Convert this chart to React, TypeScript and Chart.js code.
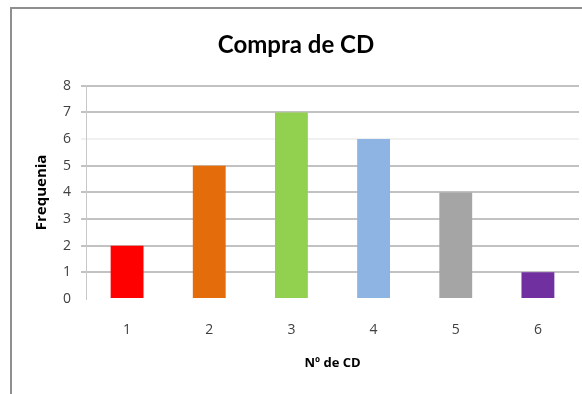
import React, { useEffect, useRef } from "react";
import { Chart, registerables } from "chart.js";

Chart.register(...registerables);

const categories = ["1", "2", "3", "4", "5", "6"];
const frequencies = [2, 5, 7, 6, 4, 1];
const barColors = ["#ff0000", "#e46c0a", "#92d050", "#8db4e2", "#a5a5a5", "#7030a0"];
const yMin = 0;
const yMax = 8;
const yStep = 1;
const chartTitle = "Compra de CD";
const xAxisTitle = "Nº de CD";
const yAxisTitle = "Frequenia";

const framePlugin = {
  id: "frame",
  beforeDraw(chart: any) {
    const { ctx } = chart;
    ctx.save();
    ctx.fillStyle = "#ffffff";
    ctx.fillRect(0, 0, chart.width, chart.height);
    ctx.strokeStyle = "#8f8f8f";
    ctx.lineWidth = 2;
    ctx.beginPath();
    ctx.moveTo(11, chart.height);
    ctx.lineTo(11, 8);
    ctx.lineTo(chart.width, 8);
    ctx.stroke();
    ctx.restore();
  },
  afterDraw(chart: any) {
    const { ctx } = chart;
    ctx.save();
    ctx.fillStyle = "#ffffff";
    ctx.fillRect(13, 367, chart.width - 13, chart.height - 367);
    ctx.restore();
  },
};

export default function App() {
  const canvasRef = useRef<HTMLCanvasElement | null>(null);

  useEffect(() => {
    if (!canvasRef.current) return;
    const chart = new Chart(canvasRef.current, {
      type: "bar",
      data: {
        labels: categories,
        datasets: [
          {
            data: frequencies,
            backgroundColor: barColors,
            borderWidth: 0,
            barPercentage: 0.4,
            categoryPercentage: 1,
          },
        ],
      },
      options: {
        responsive: false,
        animation: false,
        layout: { padding: { left: 13, right: 3, top: 0, bottom: 0 } },
        plugins: {
          legend: { display: false },
          tooltip: { enabled: false },
          title: {
            display: true,
            text: chartTitle,
            color: "#000000",
            font: { family: "Lato", size: 24, weight: "bold", lineHeight: 1.2 },
            padding: { top: 31, bottom: 26 },
          },
        },
        scales: {
          x: {
            afterFit: (scale: any) => {
              scale.height = 95;
            },
            grid: { display: false, drawTicks: false },
            border: { display: false },
            ticks: {
              color: "#404040",
              padding: 23,
              font: { family: "Open Sans", size: 14 },
            },
            title: {
              display: true,
              text: xAxisTitle,
              color: "#000000",
              font: { family: "Open Sans", size: 13, weight: "bold", lineHeight: 1.2 },
              padding: { top: 0, bottom: 23 },
            },
          },
          y: {
            min: yMin,
            max: yMax,
            afterFit: (scale: any) => {
              scale.width = 73;
            },
            grid: {
              color: (ctx: any) => {
                const v = ctx.tick ? ctx.tick.value : null;
                if (v === 0) return "rgba(0,0,0,0)";
                if (v === 6) return "#f0f0f0";
                return "#c2c2c2";
              },
              lineWidth: 2,
              drawTicks: true,
              tickLength: 5,
            },
            border: { display: true, color: "#c8c8c8", width: 1 },
            ticks: {
              stepSize: yStep,
              color: "#404040",
              padding: 10,
              font: { family: "Open Sans", size: 14 },
            },
            title: {
              display: true,
              text: yAxisTitle,
              color: "#000000",
              font: { family: "Open Sans", size: 15, weight: "bold", lineHeight: 1.2 },
              padding: { top: 20, bottom: 0 },
            },
          },
        },
      },
      plugins: [framePlugin],
    } as any);
    return () => chart.destroy();
  }, []);

  return (
    <div style={{ position: "fixed", left: 0, top: 0, width: 582, height: 394, background: "#fff" }}>
      <canvas ref={canvasRef} width={582} height={394} style={{ display: "block" }} />
    </div>
  );
}
